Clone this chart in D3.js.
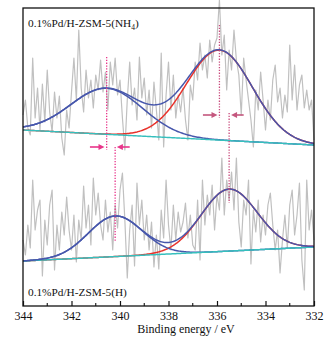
<!DOCTYPE html>
<html>
<head>
<meta charset="utf-8">
<script src="https://cdn.jsdelivr.net/npm/d3@7"></script>
<style>
  html, body { margin: 0; padding: 0; background: #fff; }
  svg text { font-family: "Liberation Serif", "Times New Roman", serif; fill: #111; }
</style>
</head>
<body>
<div class="xps-chart"></div>
<script>
// binding energy grid of the measured spectra, 344 -> 332 eV in 0.1 eV steps
const energies = d3.range(0, 121).map((i) => +(344 - i * 0.1).toFixed(1));

// raw counts (a.u.)
const rawNH4 = [
  191, 206, 178, 171, 248, 188, 218, 176, 222, 184,
  236, 194, 174, 214, 188, 210, 168, 151, 196, 178,
  214, 248, 206, 276, 218, 194, 236, 208, 226, 198,
  231, 216, 246, 214, 234, 196, 244, 221, 248, 211,
  226, 188, 156, 206, 244, 201, 218, 186, 249, 208,
  228, 191, 216, 178, 224, 196, 166, 253, 159, 211,
  244, 196, 231, 188, 211, 194, 218, 186, 166, 221,
  206, 244, 226, 263, 236, 251, 228, 266, 244, 261,
  268, 306, 251, 271, 216, 256, 236, 276, 246, 231,
  191, 248, 226, 206, 186, 159, 216, 196, 234, 206,
  176, 206, 186, 226, 241, 204, 218, 188, 211, 194,
  261, 206, 241, 196, 221, 231, 198, 216, 196, 206,
  166
];
const rawH = [
  66, 51, 81, 58, 126, 76, 96, 106, 30, 86,
  61, 101, 116, 36, 81, 56, 94, 71, 109, 76,
  56, 91, 44, 86, 66, 120, 78, 101, 61, 128,
  91, 113, 81, 66, 106, 74, 94, 56, 101, 78,
  116, 133, 86, 28, 76, 101, 40, 123, 81, 106,
  66, 91, 56, 84, 39, 71, 37, 96, 68, 126,
  81, 56, 101, 66, 94, 74, 84, 103, 68, 91,
  61, 56, 106, 46, 126, 81, 111, 91, 121, 76,
  111, 96, 148, 91, 126, 106, 134, 96, 148, 84,
  59, 106, 91, 126, 42, 96, 74, 106, 64, 91,
  71, 101, 113, 81, 56, 76, 33, 66, 91, 58,
  101, 116, 71, 91, 123, 46, 16, 126, 76, 96,
  66
];

// fit: linear background (value at 344 eV, at 332 eV) and gaussian components
const bgNH4 = [176, 161];
const bgH = [45, 59];
const peakCenterNH4 = [340.55, 335.9];
const peakHeightNH4 = [46, 90];
const peakSigmaNH4 = [1.48, 1.36];
const peakCenterH = [340.2, 335.5];
const peakHeightH = [40.6, 62];
const peakSigmaH = [1.11, 1.15];

// shift markers: [energy, top, bottom]
const markLines = [
  [340.55, 249, 156],
  [335.9, 281, 188],
  [340.2, 159, 64],
  [335.5, 193, 103],
];
// arrows: [from energy, to energy, level, colour]
const arrows = [
  [341.24, 340.64, 159, "#e8358a"],
  [339.6, 340.13, 159, "#e8358a"],
  [336.58, 335.98, 191, "#c4577e"],
  [334.9, 335.42, 191, "#c4577e"],
];

const xTicks = [344, 342, 340, 338, 336, 334, 332];
const xMinor = [343, 341, 339, 337, 335, 333];

const margin = { top: 8, right: 22, bottom: 35, left: 23 };
const W = 336, H = 341;
const width = W - margin.left - margin.right;
const height = H - margin.top - margin.bottom;

const x = d3.scaleLinear().domain([344, 332]).range([0, width]);
const y = d3.scaleLinear().domain([0, 298]).range([height, 0]);

const svg = d3
  .select(".xps-chart")
  .append("svg")
  .attr("width", W)
  .attr("height", H)
  .append("g")
  .attr("transform", `translate(${margin.left},${margin.top})`);

const fine = d3.range(344, 331.99, -0.05);
const bgAt = (bg, e) => bg[0] + ((344 - e) / 12) * (bg[1] - bg[0]);
const gauss = (e, c, h, s) => h * Math.exp(-((e - c) ** 2) / (2 * s * s));

const line = d3
  .line()
  .x((d) => x(d[0]))
  .y((d) => y(d[1]));

const blue = "#4757ac";

function drawSpectrum(raw, bg, centers, heights, sigmas) {
  svg.append("path")
    .datum(energies.map((e, i) => [e, raw[i]]))
    .attr("fill", "none")
    .attr("stroke", "#c0c0c0")
    .attr("stroke-width", 1.2)
    .attr("stroke-linejoin", "round")
    .attr("d", line);

  const comp = (k) => fine.map((e) => [e, bgAt(bg, e) + gauss(e, centers[k], heights[k], sigmas[k])]);
  const env = fine.map((e) => [
    e,
    bgAt(bg, e) + d3.sum(centers, (c, k) => gauss(e, c, heights[k], sigmas[k])),
  ]);

  svg.append("path").datum(comp(1))
    .attr("fill", "none").attr("stroke", "#e8322b").attr("stroke-width", 1.5).attr("d", line);
  svg.append("path").datum(comp(0))
    .attr("fill", "none").attr("stroke", blue).attr("stroke-width", 1.5).attr("d", line);
  svg.append("path").datum(fine.map((e) => [e, bgAt(bg, e)]))
    .attr("fill", "none").attr("stroke", "#36bfbd").attr("stroke-width", 1.5).attr("d", line);
  svg.append("path").datum(env)
    .attr("fill", "none").attr("stroke", blue).attr("stroke-width", 1.5).attr("d", line);
}

drawSpectrum(rawNH4, bgNH4, peakCenterNH4, peakHeightNH4, peakSigmaNH4);
drawSpectrum(rawH, bgH, peakCenterH, peakHeightH, peakSigmaH);

// dotted shift lines
svg.append("g")
  .selectAll("line")
  .data(markLines)
  .join("line")
  .attr("x1", (d) => x(d[0]))
  .attr("x2", (d) => x(d[0]))
  .attr("y1", (d) => y(d[1]))
  .attr("y2", (d) => y(d[2]))
  .attr("stroke", (d, i) => (i % 2 ? "#c84a7c" : "#e8358a"))
  .attr("stroke-width", 1.3)
  .attr("stroke-dasharray", "1.3,1.5");

// arrows
const ag = svg.append("g");
arrows.forEach(([from, to, lev, col]) => {
  const x0 = x(from), x1 = x(to), yy = y(lev);
  const dir = Math.sign(x1 - x0);
  ag.append("line")
    .attr("x1", x0).attr("x2", x1 - dir * 4)
    .attr("y1", yy).attr("y2", yy)
    .attr("stroke", col).attr("stroke-width", 1.6);
  ag.append("path")
    .attr("d", `M${x1},${yy} L${x1 - dir * 6},${yy - 3} L${x1 - dir * 6},${yy + 3} Z`)
    .attr("fill", col);
});

// frame
svg.append("rect")
  .attr("width", width)
  .attr("height", height)
  .attr("fill", "none")
  .attr("stroke", "#111")
  .attr("stroke-width", 1.3);

// x axis, ticks pointing inwards
const xAxis = svg.append("g").attr("transform", `translate(0,${height})`);
xAxis.call(d3.axisBottom(x).tickValues(xTicks).tickSize(-5).tickPadding(5).tickFormat(d3.format("d")));
xAxis.select(".domain").remove();
xAxis.selectAll(".tick line").attr("stroke", "#111").attr("stroke-width", 1.2);
xAxis.selectAll(".tick text")
  .style("font-family", '"Liberation Serif", serif')
  .style("font-size", "12px")
  .attr("fill", "#111");
xAxis.selectAll(".minor")
  .data(xMinor)
  .join("line")
  .attr("class", "minor")
  .attr("x1", (d) => x(d))
  .attr("x2", (d) => x(d))
  .attr("y1", 0)
  .attr("y2", -3)
  .attr("stroke", "#111")
  .attr("stroke-width", 1.1);

svg.append("text")
  .attr("x", 163)
  .attr("y", height + 27)
  .attr("text-anchor", "middle")
  .style("font-size", "12px")
  .text("Binding energy / eV");

// sample labels
const lab1 = svg.append("text")
  .attr("x", 5)
  .attr("y", 19)
  .style("font-size", "11.3px");
lab1.append("tspan").text("0.1%Pd/H-ZSM-5(NH");
lab1.append("tspan").attr("dy", 3).style("font-size", "7.5px").text("4");
lab1.append("tspan").attr("dy", -3).text(")");

svg.append("text")
  .attr("x", 5)
  .attr("y", 288)
  .style("font-size", "11.3px")
  .text("0.1%Pd/H-ZSM-5(H)");
</script>
</body>
</html>
